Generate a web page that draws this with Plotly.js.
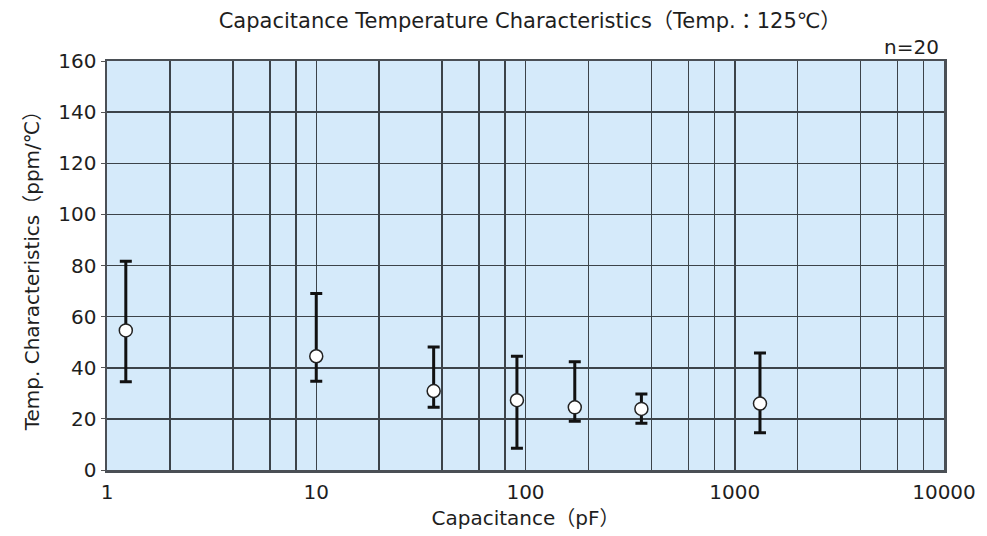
<!DOCTYPE html>
<html>
<head>
<meta charset="utf-8">
<script src="https://cdn.plot.ly/plotly-3.0.1.min.js"></script>
<style>
html,body{margin:0;padding:0;background:#fff;}
#chart{width:987px;height:536px;}
</style>
</head>
<body>
<div id="chart"></div>
<script>
// Data
const capacitance = [1.23, 10, 36.4, 91, 172, 358, 1320];   // pF
const meanValue   = [54.6, 44.5, 30.9, 27.3, 24.5, 23.9, 26.0]; // ppm/℃
const maxValue    = [81.7, 69.0, 48.1, 44.5, 42.3, 29.7, 45.8];
const minValue    = [34.5, 34.7, 24.5, 8.5, 19.1, 18.3, 14.6];

const xTickVals  = [1, 10, 100, 1000, 10000];
const xTickText  = ['1', '10', '100', '1000', '10000'];
const yTickVals  = [0, 20, 40, 60, 80, 100, 120, 140, 160];
const minorDigits = [2, 4, 6, 8];
const decades     = [1, 10, 100, 1000];

const titleText = 'Capacitance Temperature Characteristics（Temp.：125℃）';
const xTitle = 'Capacitance（pF）';
const yTitle = 'Temp. Characteristics（ppm/℃）';
const noteText = 'n=20';

const minorVals = [];
decades.forEach(d => minorDigits.forEach(m => minorVals.push(d * m)));

const FONT = '"DejaVu Sans", "Liberation Sans", "Noto Sans CJK JP", sans-serif';
const GRID = '#3c4349';
const TXT = '#1e1e1e';
const FS = 20;

const trace = {
  type: 'scatter',
  mode: 'markers',
  x: capacitance,
  y: meanValue,
  marker: {size: 13, color: '#ffffff', line: {color: '#222', width: 1.5}},
  error_y: {
    type: 'data',
    symmetric: false,
    array: maxValue.map((v, i) => v - meanValue[i]),
    arrayminus: meanValue.map((v, i) => v - minValue[i]),
    color: '#111',
    thickness: 3,
    width: 6
  },
  hoverinfo: 'x+y'
};

const layout = {
  width: 987,
  height: 536,
  margin: {l: 107, r: 43, t: 61, b: 66},
  paper_bgcolor: '#ffffff',
  plot_bgcolor: '#d5eafa',
  showlegend: false,
  font: {family: FONT, size: FS, color: TXT},
  title: {
    text: titleText,
    font: {family: FONT, size: 21, color: TXT},
    x: 0.537, xanchor: 'center',
    y: 0.962, yanchor: 'middle'
  },
  xaxis: {
    type: 'log',
    range: [0, 4],
    tickvals: xTickVals,
    ticktext: xTickText,
    ticks: '',
    ticklabelstandoff: 2,
    showgrid: true,
    gridcolor: GRID,
    gridwidth: 1.5,
    minor: {tickvals: minorVals, showgrid: true, gridcolor: GRID, gridwidth: 1.5, ticks: ''},
    showline: true,
    mirror: true,
    linecolor: '#4a4f55',
    linewidth: 2.5,
    zeroline: false,
    tickfont: {family: FONT, size: FS, color: TXT},
    title: {text: xTitle, font: {family: FONT, size: FS, color: TXT}, standoff: 9}
  },
  yaxis: {
    range: [0, 160],
    tickvals: yTickVals,
    ticks: 'outside',
    ticklen: 4,
    tickcolor: '#555',
    showgrid: true,
    gridcolor: GRID,
    gridwidth: 1.5,
    showline: true,
    mirror: true,
    linecolor: '#4a4f55',
    linewidth: 2.5,
    zeroline: false,
    tickfont: {family: FONT, size: FS, color: TXT},
    title: {text: yTitle, font: {family: FONT, size: FS, color: TXT}, standoff: 14}
  },
  annotations: [{
    text: noteText,
    xref: 'paper', yref: 'paper',
    x: 0.997, y: 1.0,
    xanchor: 'right', yanchor: 'bottom',
    showarrow: false,
    font: {family: FONT, size: FS, color: TXT}
  }]
};

Plotly.newPlot('chart', [trace], layout, {displayModeBar: false, staticPlot: true});
</script>
</body>
</html>
